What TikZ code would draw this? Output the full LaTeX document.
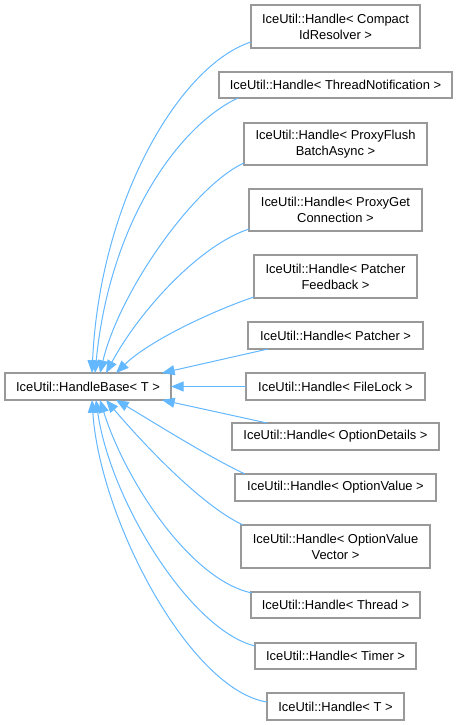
\documentclass[tikz,border=0pt]{standalone}
\usepackage{fontspec}
\setmainfont{Liberation Sans}
\usetikzlibrary{arrows.meta,calc}
\newdimen\px \px=0.75pt
\definecolor{edgeblue}{HTML}{63B8FF}
\definecolor{boxgray}{HTML}{999999}
\begin{document}
\begin{tikzpicture}[x=0.75pt,y=-0.75pt,
  box/.style={draw=boxgray,line width=1.1pt,fill=white,inner sep=0pt,outer sep=0pt,
    align=center,font=\fontsize{9.7}{12}\selectfont,text=black},
  edge/.style={draw=edgeblue,line width=0.75pt,-{Triangle[length=9.5pt,width=7.5pt]}}]
\useasboundingbox (0,0) rectangle (457,725);
\fill[white] (0,0) rectangle (457,725);
% nodes
\node[box,minimum width=166\px,minimum height=27\px] (base) at (88,386.5) {IceUtil::HandleBase< T >};
\node[box,minimum width=169\px,minimum height=43\px] (cmp) at (335.5,26.5) {IceUtil::Handle< Compact\\IdResolver >};
\node[box,minimum width=233\px,minimum height=26\px] (tn) at (335.5,85) {IceUtil::Handle< ThreadNotification >};
\node[box,minimum width=183\px,minimum height=42\px] (pf) at (335.5,144) {IceUtil::Handle< ProxyFlush\\BatchAsync >};
\node[box,minimum width=173\px,minimum height=42\px] (pg) at (335.5,210) {IceUtil::Handle< ProxyGet\\Connection >};
\node[box,minimum width=163\px,minimum height=43\px] (pfb) at (335.5,276.5) {IceUtil::Handle< Patcher\\Feedback >};
\node[box,minimum width=175\px,minimum height=27\px] (pat) at (335.5,335.5) {IceUtil::Handle< Patcher >};
\node[box,minimum width=179\px,minimum height=27\px] (fl) at (335.5,386.5) {IceUtil::Handle< FileLock >};
\node[box,minimum width=207\px,minimum height=27\px] (od) at (335.5,436.5) {IceUtil::Handle< OptionDetails >};
\node[box,minimum width=201\px,minimum height=27\px] (ov) at (335.5,487.5) {IceUtil::Handle< OptionValue >};
\node[box,minimum width=189\px,minimum height=43\px] (ovv) at (335.5,546.5) {IceUtil::Handle< OptionValue\\Vector >};
\node[box,minimum width=169\px,minimum height=26\px] (thr) at (335.5,605) {IceUtil::Handle< Thread >};
\node[box,minimum width=161\px,minimum height=26\px] (tim) at (335.5,656) {IceUtil::Handle< Timer >};
\node[box,minimum width=137\px,minimum height=27\px] (tt) at (335.5,706.5) {IceUtil::Handle< T >};
% edges (upper)
\draw[edge] ($(cmp.west)+(0,15.5)$) .. controls (180,65) and (100,200) .. ($(base.north west)+(87,0)$);
\draw[edge] ($(tn.south west)+(19,0)$) .. controls (180,125) and (110,220) .. ($(base.north west)+(90,0)$);
\draw[edge] ($(pf.west)+(0,19)$) .. controls (195,185) and (120,290) .. ($(base.north west)+(95,0)$);
\draw[edge] ($(pg.west)+(0,19)$) .. controls (200,245) and (140,310) .. ($(base.north west)+(101,0)$);
\draw[edge] ($(pfb.west)+(0,20.5)$) .. controls (215,310) and (150,340) .. ($(base.north west)+(111,0)$);
\draw[edge] ($(pat.south west)+(20,0)$) -- ($(base.north west)+(157,0)$);
\draw[edge] (fl.west) -- (base.east);
% edges (lower)
\draw[edge] ($(od.north west)+(35,0)$) -- ($(base.south west)+(157,0)$);
\draw[edge] ($(ov.north west)+(10,0)$) .. controls (205,455) and (150,420) .. ($(base.south west)+(111,0)$);
\draw[edge] ($(ovv.north west)+(2,0)$) .. controls (200,505) and (140,440) .. ($(base.south west)+(101,0)$);
\draw[edge] ($(thr.north west)+(1,1)$) .. controls (190,580) and (125,480) .. ($(base.south west)+(95,0)$);
\draw[edge] ($(tim.west)+(0,-10)$) .. controls (190,630) and (110,500) .. ($(base.south west)+(91,0)$);
\draw[edge] ($(tt.west)+(0,-4.5)$) .. controls (190,690) and (100,520) .. ($(base.south west)+(87,0)$);
\end{tikzpicture}
\end{document}
